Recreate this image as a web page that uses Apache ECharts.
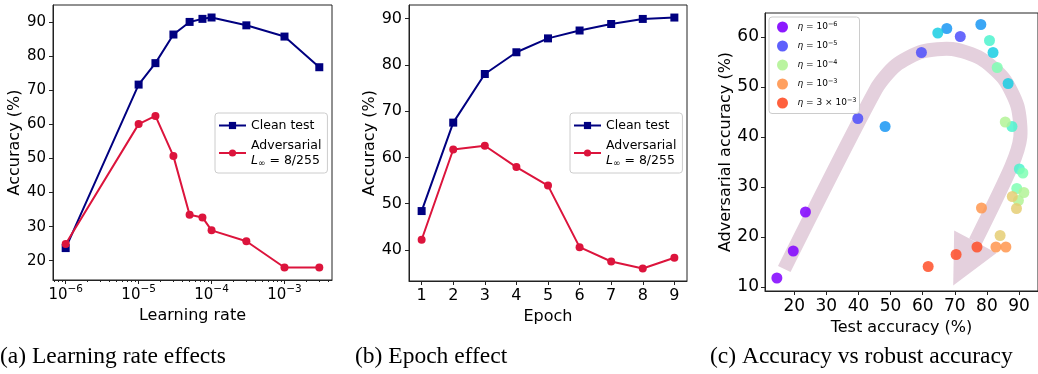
<!DOCTYPE html>
<html>
<head>
<meta charset="utf-8">
<script src="https://cdn.jsdelivr.net/npm/echarts@6/dist/echarts.min.js"></script>
<style>
  html, body { margin: 0; padding: 0; background: #fff; }
  #chart { width: 1038px; height: 374px; }
</style>
</head>
<body>
<div id="chart"></div>
<script>
// ---- (a) learning-rate sweep ----
const learningRates = [1e-6, 1e-5, 1.7e-5, 3e-5, 5e-5, 7.5e-5, 1e-4, 3e-4, 1e-3, 3e-3];
const lrClean = [23.7, 71.7, 78.0, 86.4, 90.1, 91.0, 91.4, 89.1, 85.8, 76.8];
const lrAdv   = [24.9, 60.1, 62.5, 50.7, 33.5, 32.7, 28.9, 25.7, 18.0, 18.0];
const lrTicks = [1e-6, 1e-5, 1e-4, 1e-3];

// ---- (b) epoch sweep ----
const epochs     = [1, 2, 3, 4, 5, 6, 7, 8, 9];
const epochClean = [48.4, 67.5, 78.0, 82.7, 85.7, 87.4, 88.8, 89.9, 90.2];
const epochAdv   = [42.2, 61.7, 62.5, 57.9, 53.9, 40.6, 37.5, 36.0, 38.3];
const accTicksA  = [20, 30, 40, 50, 60, 70, 80, 90];
const accTicksB  = [40, 50, 60, 70, 80, 90];

// ---- (c) test accuracy vs adversarial accuracy ----
// lrIndex points into learningRates and drives the colour scale
const testAcc = [14.6, 19.7, 23.5, 39.8, 71.7, 59.6, 48.3, 67.5, 78.1, 64.7, 81.9, 86.6,
                 80.8, 87.8, 90.1, 83.2, 91.2, 89.3, 85.7, 91.5, 89.8, 87.9, 89.2, 84.1,
                 78.3, 82.8, 85.9, 76.9, 70.4, 61.7];
const advAcc  = [11.8, 17.2, 25.0, 43.7, 60.1, 56.9, 42.1, 61.7, 62.5, 60.8, 56.9, 50.7,
                 59.3, 42.1, 33.6, 53.9, 32.8, 29.7, 43.0, 28.9, 27.3, 28.1, 25.7, 20.3,
                 25.8, 18.0, 18.0, 18.0, 16.5, 14.1];
const lrIndex = [0, 0, 0, 1, 1, 1, 2, 2, 2, 3, 3, 3,
                 4, 4, 4, 5, 5, 5, 6, 6, 6, 7, 7, 7,
                 8, 8, 8, 9, 9, 9];
const etaNames = ['1e-6', '1e-5', '1e-4', '1e-3', '3e-3'];
const etaIndex = [0, 1, 6, 8, 9];
const testTicks = [20, 30, 40, 50, 60, 70, 80, 90];
const advTicks  = [10, 20, 30, 40, 50, 60];

// centre line of the trend arrow (test %, adversarial %) and its head
const arrowPath = [[16.9, 13.6], [45.5, 49.6], [51.6, 54.3], [59.9, 57.1], [69.2, 57.6],
                   [78.1, 55.7], [85.2, 51.7], [89.5, 46.2], [90.4, 40.0], [87.6, 34.1],
                   [76.4, 19.1]];
const arrowHead = [[69.8, 21.3], [83.0, 16.8], [69.5, 10.3]];

// matplotlib "rainbow" colormap
function rainbow(x) {
  const c = v => Math.round(Math.max(0, Math.min(1, v)) * 255);
  return 'rgb(' + c(Math.abs(2 * x - 0.5)) + ',' + c(Math.sin(Math.PI * x)) + ',' + c(Math.cos(Math.PI * x / 2)) + ')';
}
const rainbowStops = [];
for (let k = 0; k <= 10; k++) rainbowStops.push(rainbow(k / 10));

// minor ticks of the log axis: 2..9 within each decade
const minorTicks = [];
for (let e = -7; e <= -3; e++) for (let m = 2; m <= 9; m++) minorTicks.push(m * Math.pow(10, e));

const FONT = 'DejaVu Sans';
const INK = '#000';
const NAVY = '#000080';
const CRIMSON = '#dc143c';

function valueAxis(grid, min, max, ticks, name, gap, tickSize, margin) {
  return {
    type: 'value', gridIndex: grid, min: min, max: max,
    name: name, nameLocation: 'middle', nameGap: gap,
    nameTextStyle: { fontFamily: FONT, fontSize: 16, color: INK },
    axisLine: { show: true, onZero: false, lineStyle: { color: '#222', width: 1 } },
    axisTick: { show: true, length: 4, customValues: ticks, lineStyle: { color: '#222' } },
    axisLabel: { customValues: ticks, fontFamily: FONT, fontSize: tickSize, color: INK, margin: margin },
    splitLine: { show: false }
  };
}

const supRich = {
  b: { fontFamily: FONT, fontSize: 15, color: INK, verticalAlign: 'bottom', lineHeight: 19 },
  s: { fontFamily: FONT, fontSize: 10.5, color: INK, verticalAlign: 'top', lineHeight: 19 }
};

const legendRich = {
  t: { fontFamily: FONT, fontSize: 12.5, color: INK, lineHeight: 15 },
  i: { fontFamily: FONT, fontSize: 12.5, color: INK, fontStyle: 'italic', lineHeight: 15 },
  sub: { fontFamily: FONT, fontSize: 9, color: INK, verticalAlign: 'bottom', lineHeight: 15 }
};

function lineLegend(left, top) {
  return {
    left: left, top: top, orient: 'vertical',
    data: ['Clean test', 'Adversarial'],
    itemWidth: 27, itemHeight: 9, itemGap: 7,
    padding: [6, 6, 5, 3],
    backgroundColor: 'rgba(255,255,255,0.85)',
    borderColor: '#ccc', borderWidth: 1, borderRadius: 3,
    selectedMode: false,
    formatter: n => n === 'Adversarial'
      ? '{t|Adversarial}\n{i|L}{sub|∞}{t| = 8/255}'
      : '{t|Clean test}',
    textStyle: { rich: legendRich }
  };
}

const etaRich = {
  i: { fontFamily: FONT, fontSize: 9, color: INK, fontStyle: 'italic' },
  t: { fontFamily: FONT, fontSize: 9, color: INK },
  s: { fontFamily: FONT, fontSize: 6.5, color: INK, verticalAlign: 'top', lineHeight: 12 }
};
function etaLabel(n) {
  const p = n.split('e');
  const lead = p[0] === '1' ? '10' : p[0] + ' × 10';
  return '{i|η}{t| = ' + lead + '}{s|' + p[1].replace('-', '−') + '}';
}

const CAPTION_FONT = '23.5px "Liberation Serif"';

const option = {
  animation: false,
  textStyle: { fontFamily: FONT },
  grid: [
    { left: 53, top: 5, width: 279, height: 275, show: true, borderColor: '#222', borderWidth: 1 },
    { left: 409, top: 5, width: 278, height: 276, show: true, borderColor: '#222', borderWidth: 1 },
    { left: 765, top: 13, width: 283, height: 278, show: true, borderColor: '#222', borderWidth: 1 }
  ],
  xAxis: [
    {
      type: 'log', logBase: 10, gridIndex: 0, min: 6.70e-7, max: 4.48e-3,
      name: 'Learning rate', nameLocation: 'middle', nameGap: 23,
      nameTextStyle: { fontFamily: FONT, fontSize: 16, color: INK },
      axisLine: { show: true, onZero: false, lineStyle: { color: '#222', width: 1 } },
      axisTick: { show: true, length: 4, customValues: lrTicks, lineStyle: { color: '#222' } },
      axisLabel: {
        customValues: lrTicks, margin: 4,
        formatter: v => '{b|10}{s|−' + (-Math.round(Math.log10(v))) + '}',
        rich: supRich
      },
      splitLine: { show: false }
    },
    {
      type: 'log', logBase: 10, gridIndex: 0, min: 6.70e-7, max: 4.48e-3, position: 'bottom',
      axisLine: { show: false },
      axisTick: { show: true, length: 2, customValues: minorTicks, lineStyle: { color: '#222' } },
      axisLabel: { show: false },
      splitLine: { show: false }
    },
    valueAxis(1, 0.6, 9.4, epochs, 'Epoch', 23, 16, 7),
    valueAxis(2, 10.9, 95.9, testTicks, 'Test accuracy (%)', 22, 17, 7)
  ],
  yAxis: [
    valueAxis(0, 14.33, 95.07, accTicksA, 'Accuracy (%)', 29, 15, 7),
    valueAxis(1, 33.29, 92.91, accTicksB, 'Accuracy (%)', 29, 16, 7),
    valueAxis(2, 9.2, 64.8, advTicks, 'Adversarial accuracy (%)', 30, 17, 6)
  ],
  legend: [
    lineLegend(215, 113),
    lineLegend(570, 113),
    {
      left: 769, top: 17, orient: 'vertical',
      data: etaNames,
      itemWidth: 20, itemHeight: 11, itemGap: 7.5,
      padding: [4, 3, 5, 8],
      backgroundColor: 'rgba(255,255,255,0.85)',
      borderColor: '#ccc', borderWidth: 1, borderRadius: 3,
      selectedMode: false,
      formatter: etaLabel,
      textStyle: { rich: etaRich }
    }
  ],
  visualMap: {
    type: 'continuous', show: false, dimension: 2, min: 0, max: 10,
    seriesIndex: 5,
    inRange: { color: rainbowStops }
  },
  graphic: [
    { type: 'text', left: 0, top: 345, style: { text: '(a) Learning rate effects', font: CAPTION_FONT, fill: '#000' } },
    { type: 'text', left: 355, top: 345, style: { text: '(b) Epoch effect', font: CAPTION_FONT, fill: '#000' } },
    { type: 'text', left: 710, top: 345, style: { text: '(c) Accuracy vs robust accuracy', font: CAPTION_FONT, fill: '#000' } }
  ],
  series: [
    {
      name: 'Clean test', type: 'line', xAxisIndex: 0, yAxisIndex: 0,
      data: learningRates.map((x, i) => [x, lrClean[i]]),
      symbol: 'rect', symbolSize: 8, color: NAVY, lineStyle: { width: 2, color: NAVY }
    },
    {
      name: 'Adversarial', type: 'line', xAxisIndex: 0, yAxisIndex: 0,
      data: learningRates.map((x, i) => [x, lrAdv[i]]),
      symbol: 'circle', symbolSize: 8, color: CRIMSON, lineStyle: { width: 2, color: CRIMSON }
    },
    {
      name: 'Clean test', type: 'line', xAxisIndex: 2, yAxisIndex: 1,
      data: epochs.map((x, i) => [x, epochClean[i]]),
      symbol: 'rect', symbolSize: 8, color: NAVY, lineStyle: { width: 2, color: NAVY }
    },
    {
      name: 'Adversarial', type: 'line', xAxisIndex: 2, yAxisIndex: 1,
      data: epochs.map((x, i) => [x, epochAdv[i]]),
      symbol: 'circle', symbolSize: 8, color: CRIMSON, lineStyle: { width: 2, color: CRIMSON }
    },
    {
      // trend arrow behind the scatter points
      type: 'custom', xAxisIndex: 3, yAxisIndex: 2, silent: true, z: 1,
      data: [[arrowPath[0][0], arrowPath[0][1]]],
      renderItem: function (params, api) {
        const pts = arrowPath.map(p => api.coord(p));
        const head = arrowHead.map(p => api.coord(p));
        return {
          type: 'group',
          children: [
            { type: 'polyline', shape: { points: pts, smooth: 0.25 },
              style: { stroke: '#e4d0dd', lineWidth: 14, fill: null, lineJoin: 'round', lineCap: 'butt' } },
            { type: 'polygon', shape: { points: head }, style: { fill: '#e4d0dd' } }
          ]
        };
      }
    },
    {
      type: 'scatter', xAxisIndex: 3, yAxisIndex: 2, z: 3,
      data: testAcc.map((t, i) => [t, advAcc[i], lrIndex[i]]),
      symbolSize: 11, itemStyle: { opacity: 0.85 }
    }
  ].concat(etaNames.map((n, k) => ({
    name: n, type: 'scatter', xAxisIndex: 3, yAxisIndex: 2, data: [],
    symbolSize: 11, itemStyle: { color: rainbowStops[etaIndex[k]], opacity: 0.9 }
  })))
};

const chart = echarts.init(document.getElementById('chart'), null, { renderer: 'canvas' });
chart.setOption(option);
</script>
</body>
</html>
